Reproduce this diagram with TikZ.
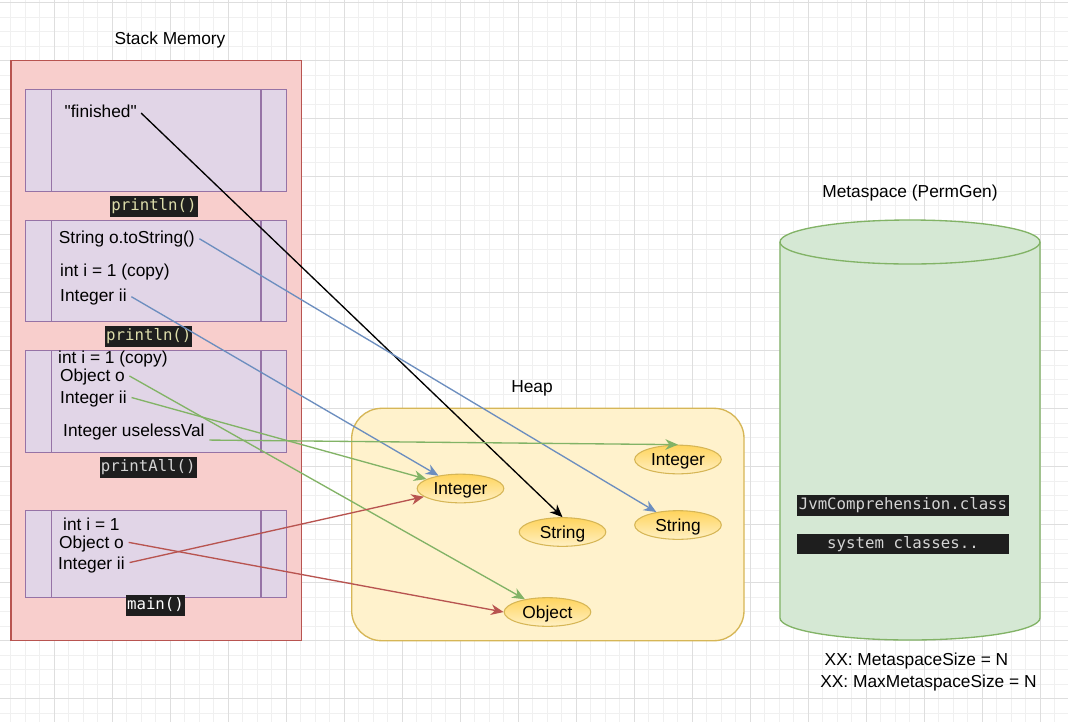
\documentclass[tikz,border=0pt]{standalone}
\usepackage{fontspec}
\setmainfont{Liberation Sans}[Ligatures=TeXOff]
\setmonofont{DejaVu Sans Mono}
\usetikzlibrary{arrows.meta,shapes.geometric}

\definecolor{stackfill}{HTML}{F8CECC}
\definecolor{stackline}{HTML}{B85450}
\definecolor{framefill}{HTML}{E1D5E7}
\definecolor{frameline}{HTML}{9673A6}
\definecolor{heapfill}{HTML}{FFF2CC}
\definecolor{heapline}{HTML}{D6B656}
\definecolor{objtop}{HTML}{FFD45C}
\definecolor{objbot}{HTML}{FFF0C4}
\definecolor{metafill}{HTML}{D5E8D4}
\definecolor{metaline}{HTML}{82B366}
\definecolor{refblue}{HTML}{6C8EBF}
\definecolor{refgreen}{HTML}{82B366}
\definecolor{refred}{HTML}{B85450}
\definecolor{codebg}{HTML}{1E1E1E}
\definecolor{codefn}{HTML}{DCDCAA}
\definecolor{codetxt}{HTML}{D4D4D4}
\definecolor{gridminor}{HTML}{F0F0F0}
\definecolor{gridmajor}{HTML}{DEDEDE}

\begin{document}
\begin{tikzpicture}[
    x=0.75pt, y=-0.75pt,
    font=\fontsize{13}{15.6}\selectfont,
    lbl/.style={text height=9.3pt, text depth=0pt, inner sep=1pt},
    var/.style={lbl, anchor=west, inner xsep=2pt},
    framebox/.style={draw=frameline, fill=framefill, line width=1pt},
    method/.style={fill=codebg, text=codefn, font=\ttfamily\fontsize{11.8}{14}\selectfont,
      inner xsep=0.7pt, inner ysep=0pt, minimum height=15.75pt},
    obj/.style={ellipse, draw=heapline, line width=0.8pt, top color=objtop, bottom color=objbot,
      minimum width=65pt, minimum height=21.5pt, inner sep=0pt, lbl},
    classbox/.style={fill=codebg, text=codetxt, font=\ttfamily\fontsize{11.8}{14}\selectfont,
      minimum width=159pt, minimum height=15.4pt, inner sep=0pt},
    ref/.style={-{Stealth[length=9.5pt,width=8pt,inset=3pt]}, line width=1pt, shorten <=1.5pt}
  ]
    \useasboundingbox (0,0) rectangle (1068,722);
    \fill[white] (0,0) rectangle (1068,722);

    % grid
    \foreach \k in {-3,...,69}
      \draw[gridminor, line width=0.75pt] ({54+14.5*\k},0) -- ({54+14.5*\k},722);
    \foreach \k in {0,...,49}
      \draw[gridminor, line width=0.75pt] (0,{2.7+14.5*\k}) -- (1068,{2.7+14.5*\k});
    \foreach \k in {0,...,17}
      \draw[gridmajor, line width=0.75pt] ({54+58*\k},0) -- ({54+58*\k},722);
    \foreach \k in {0,...,12}
      \draw[gridmajor, line width=0.75pt] (0,{2.7+58*\k}) -- (1068,{2.7+58*\k});

    % stack
    \node[lbl] (stacktitle) at (170,38) {Stack Memory};
    \draw[draw=stackline, fill=stackfill, line width=1pt] (11,60.7) rectangle (301.7,640.7);
    \foreach \top/\bot in {89.3/191.3, 220.3/321.7, 350.7/452.3, 510.7/597.3} {
      \draw[framebox] (25.7,\top) rectangle (286.7,\bot);
      \draw[frameline, line width=1pt] (51.7,\top) -- (51.7,\bot) (261,\top) -- (261,\bot);
    }

    \node[var] (finished) at (61.8,111.7) {"finished"};
    \node[method] (printlnA) at (154,206.2) {println()};

    \node[var] (tostr) at (56,237.7) {String o.toString()};
    \node[var] (copyA) at (57.3,270.7) {int i = 1 (copy)};
    \node[var] (iiA) at (57.3,295.7) {Integer ii};
    \node[method] (printlnB) at (148.8,336) {println()};

    \node[var] (copyB) at (55.3,357) {int i = 1 (copy)};
    \node[var] (objB) at (57.3,375) {Object o};
    \node[var] (iiB) at (57.3,397) {Integer ii};
    \node[var] (useless) at (60.3,430.7) {Integer uselessVal};
    \node[method, text=codetxt] (printall) at (148.3,467) {printAll()};

    \node[var] (oneC) at (60.3,524) {int i = 1};
    \node[var] (objC) at (56.3,542) {Object o};
    \node[var] (iiC) at (55.3,563) {Integer ii};
    \node[method, text=white] (mainlbl) at (155.5,605) {main()};

    % heap
    \node[lbl] (heaptitle) at (532,386) {Heap};
    \draw[draw=heapline, fill=heapfill, line width=1pt, rounded corners=22.5pt]
      (351.7,408.3) rectangle (744,640.7);
    \node[obj] (intA) at (460.5,488.5) {Integer};
    \node[obj] (strA) at (562.5,532) {String};
    \node[obj] (objA) at (547.5,612) {Object};
    \node[obj] (intB) at (678,459.5) {Integer};
    \node[obj] (strB) at (678,525) {String};

    % metaspace
    \node[lbl] (metatitle) at (910,191) {Metaspace (PermGen)};
    \filldraw[draw=metaline, fill=metafill, line width=1pt]
      (780,242) -- (780,618) arc[start angle=180, end angle=360, x radius=97.5pt, y radius=16.5pt]
      -- (1040,242) arc[start angle=0, end angle=180, x radius=97.5pt, y radius=16.5pt] -- cycle;
    \draw[metaline, line width=1pt]
      (780,242) arc[start angle=180, end angle=360, x radius=97.5pt, y radius=16.5pt];
    \node[classbox] (jvm) at (903,505.5) {JvmComprehension.class};
    \node[classbox] (sysc) at (903,544) {system classes..};
    \node[lbl] (xxmin) at (916.5,659) {XX: MetaspaceSize = N};
    \node[lbl] (xxmax) at (928.5,681) {XX: MaxMetaspaceSize = N};

    % references
    \draw[ref, black] (finished.east) -- (strA.north);
    \draw[ref, refblue] (tostr.east) -- (strB);
    \draw[ref, refblue] (iiA.east) -- (intA);
    \draw[ref, refgreen] (objB.east) -- (objA);
    \draw[ref, refgreen] (iiB.east) -- (intA);
    \draw[ref, refgreen] ([yshift=-7pt]useless.east) -- (intB.north);
    \draw[ref, refred] (objC.east) -- (objA.west);
    \draw[ref, refred] (iiC.east) -- (intA);
\end{tikzpicture}
\end{document}
